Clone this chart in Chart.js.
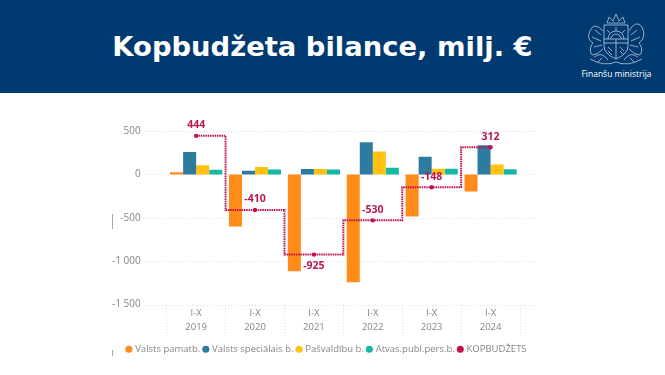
<!doctype html>
<html lang="lv">
  <head>
    <meta charset="utf-8">
    <title>Kopbudžeta bilance</title>
    <script src="https://cdn.jsdelivr.net/npm/chart.js"></script>
    <style>
      html, body { margin: 0; padding: 0; background: #fff; overflow: hidden; }
      #page { position: relative; width: 665px; height: 375px; }
      #header { position: absolute; left: 0; top: 0; width: 665px; height: 93px; background: #003a70; }
      #title { position: absolute; left: 0; width: 645px; top: 27px; text-align: center; color: #fff;
        font: bold 27.4px "DejaVu Sans", sans-serif; line-height: 40px; white-space: nowrap; }
      #logo { position: absolute; left: 584px; top: 13px; }
      #org { position: absolute; left: 560px; width: 113px; top: 68px; text-align: center; color: #fff;
        font: 8.5px "Open Sans", sans-serif; line-height: 12px; }
      #chartBox { position: absolute; left: 0; top: 93px; width: 650px; height: 282px; }
      .mark { position: absolute; left: 112px; width: 1px; background: #a8a8a8; }
    </style>
  </head>

  <body>
    <div id="page">
      <div id="header">
        <div id="title">Kopbudžeta bilance, milj. €</div>
        <svg id="logo" width="64" height="54" viewBox="0 0 64 54" fill="none" stroke="#b9c9da" stroke-width="0.8">
          <path d="M23 10 L25 4 L29 8 L32 1 L35 8 L39 4 L41 10 Z"/>
          <path d="M20 12 H44 V33 Q44 41 32 46 Q20 41 20 33 Z"/>
          <path d="M24 26 A8 8 0 0 1 40 26 M27 26 A5 5 0 0 1 37 26 M32 18 V14 M26 20 L23 17 M38 20 L41 17"/>
          <path d="M20 26 H44 M20 30 H44 M32 26 V46 M24 34 L28 38 M36 34 L40 38 M24 38 L28 42 M36 38 L40 42"/>
          <path d="M19 18 Q10 8 6 18 Q2 26 9 30 Q4 36 8 42 Q14 42 19 36 M11 17 L17 22 M8 24 L17 28 M10 34 L18 32"/>
          <path d="M45 18 Q52 6 58 14 Q63 24 55 30 Q60 36 56 42 Q50 42 45 36 M53 17 L47 22 M56 24 L47 28 M54 34 L46 32"/>
          <path d="M6 46 Q20 54 32 49 Q44 54 58 46 M10 44 Q18 38 24 47 M54 44 Q46 38 40 47 M14 49 L18 45 M50 49 L46 45"/>
        </svg>
        <div id="org">Finanšu ministrija</div>
      </div>
      <div class="mark" style="top:214px;height:15px"></div>
      <div class="mark" style="top:350px;height:6px"></div>
      <div id="chartBox"><canvas id="budgetChart" width="650" height="282"></canvas></div>
    </div>

    <script>
      const years = ['2019', '2020', '2021', '2022', '2023', '2024'];
      const period = 'I-X';
      const yTickValues = [500, 0, -500, -1000, -1500];
      const valstsPamatb = [25, -600, -1117, -1243, -485, -196];
      const valstsSpeciālais = [258, 42, 62, 370, 204, 335];
      const pašvaldību = [105, 85, 62, 265, 65, 115];
      const atvasPubl = [54, 55, 55, 75, 65, 58];
      const kopbudžets = [444, -410, -925, -530, -148, 312];

      const grey = '#858585';
      const lineCol = '#c2104f';

      // y gridlines run past the category band on both sides
      const gridPlugin = {
        id: 'wideGrid',
        beforeDatasetsDraw(chart) {
          const c = chart.ctx, y = chart.scales.y;
          c.save();
          c.strokeStyle = '#dcdcdc';
          c.lineWidth = 1;
          c.setLineDash([1, 2]);
          yTickValues.forEach(function (v) {
            const py = Math.round(y.getPixelForValue(v)) + 0.5;
            c.beginPath();
            c.moveTo(144, py);
            c.lineTo(536, py);
            c.stroke();
          });
          c.restore();
        }
      };

      // value labels for the total line, -925 sits below its point
      const labelPlugin = {
        id: 'totalLabels',
        afterDatasetsDraw(chart) {
          const pts = chart.getDatasetMeta(4).data;
          const c = chart.ctx;
          c.save();
          c.fillStyle = '#b8174f';
          c.font = 'bold 10.5px "Open Sans", sans-serif';
          c.textAlign = 'center';
          c.textBaseline = 'middle';
          pts.forEach(function (p, i) {
            const dy = kopbudžets[i] === -925 ? 11 : -10.5;
            c.fillText(String(kopbudžets[i]), p.x, p.y + dy);
          });
          c.restore();
        }
      };

      // legend is centred under the chart area by default, the reference has it further right
      const legendShift = {
        id: 'legendShift',
        afterLayout(chart) {
          chart.legend.left += 67;
          chart.legend.right += 67;
        }
      };

      function bars(label, data, color) {
        return { label: label, data: data, backgroundColor: color, borderWidth: 0, order: 2,
          pointStyle: 'circle', categoryPercentage: 0.885, barPercentage: 1 };
      }

      new Chart(document.getElementById('budgetChart'), {
        type: 'bar',
        data: {
          labels: years.map(function (y) { return [period, y]; }),
          datasets: [
            bars('Valsts pamatb.', valstsPamatb, '#ff8c1a'),
            bars('Valsts speciālais b.', valstsSpeciālais, '#2d7ca0'),
            bars('Pašvaldību b.', pašvaldību, '#ffc20e'),
            bars('Atvas.publ.pers.b.', atvasPubl, '#13b8a6'),
            {
              type: 'line', label: 'KOPBUDŽETS', data: kopbudžets, order: 1,
              stepped: 'middle', borderColor: lineCol, backgroundColor: lineCol,
              borderWidth: 2, borderDash: [1.5, 0.8], pointRadius: 2.2,
              pointStyle: 'circle', pointBackgroundColor: lineCol, pointBorderWidth: 0
            }
          ]
        },
        options: {
          responsive: false,
          animation: false,
          layout: { padding: { top: 38, right: 130, bottom: 11, left: 0 } },
          scales: {
            x: {
              offset: true,
              border: { display: false },
              grid: { drawOnChartArea: false, drawTicks: true, tickLength: 32, tickColor: '#dedede', tickBorderDash: [1, 2], tickWidth: 1, offset: true },
              ticks: { color: grey, font: { family: '"Open Sans", sans-serif', size: 9.5, lineHeight: 1.47 }, padding: -30, maxRotation: 0, autoSkip: false },
              afterFit(s) { s.height = 36; }
            },
            y: {
              min: -1500, max: 500,
              border: { display: false },
              grid: { display: false, drawTicks: false },
              afterBuildTicks(s) { s.ticks = yTickValues.map(function (v) { return { value: v }; }); },
              ticks: {
                color: grey, font: { family: '"Open Sans", sans-serif', size: 10 }, padding: 26,
                callback: function (v) { return String(v).replace(/(\d)(\d{3})$/, '$1 $2'); }
              },
              afterFit(s) { s.width = 166.7; }
            }
          },
          plugins: {
            tooltip: { enabled: false },
            legend: {
              position: 'bottom',
              labels: {
                color: grey, font: { family: '"Open Sans", sans-serif', size: 9.5 },
                usePointStyle: true, boxWidth: 3, boxHeight: 5, padding: 4,
                sort: function (a, b) { return a.datasetIndex - b.datasetIndex; }
              }
            }
          }
        },
        plugins: [gridPlugin, labelPlugin, legendShift]
      });
    </script>
  </body>
</html>
